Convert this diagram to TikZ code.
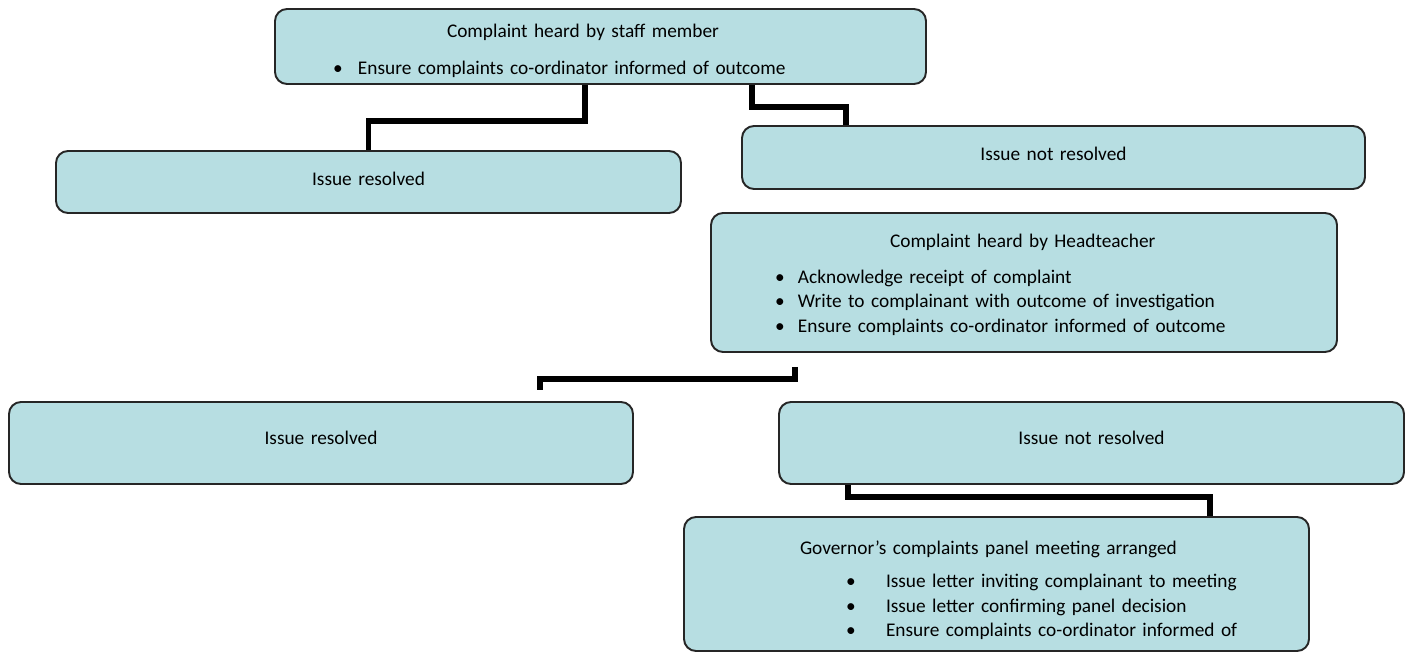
\documentclass[tikz,border=0pt]{standalone}
\usepackage{fontspec}
\setmainfont{Carlito}
\usepackage{tikz}
\usetikzlibrary{positioning}
\definecolor{boxfill}{RGB}{183,222,226}

\begin{document}
\begin{tikzpicture}[box/.style={draw=black!85, line width=1.1pt, rounded corners=0.24cm, fill=boxfill, inner sep=0pt, align=left, font=\fontsize{11}{14}\selectfont}, link/.style={line width=3.2pt}]
			\useasboundingbox (0,0) rectangle (28.24,-13.06);
			\node[box, text width=13.02cm, minimum height=1.5cm] (STAFF) at (12.01,-0.93) {\rule{0pt}{12.7pt}\hspace*{3.44cm}Complaint heard by staff member\\[7pt]\hspace*{1.16cm}\makebox[0.5cm][l]{\textbullet}Ensure complaints co-ordinator informed of outcome};
			\node[box, align=center, text width=12.5cm, minimum height=1.24cm, text depth=0.12cm, node distance=2.71cm, below of=STAFF, xshift=-4.64cm] (RES1) {Issue resolved};
			\node[box, align=center, text width=12.46cm, minimum height=1.26cm, text depth=0.16cm, node distance=2.22cm, below of=STAFF, xshift=9.06cm] (NRES1) {Issue not resolved};
			\node[box, text width=12.52cm, minimum height=2.78cm, node distance=2.5cm, below of=NRES1, xshift=-0.59cm] (HEAD) {\rule{0pt}{10.5pt}\hspace*{3.58cm}Complaint heard by Headteacher\\[6pt]\hspace*{1.28cm}\makebox[0.46cm][l]{\textbullet}Acknowledge receipt of complaint\\\hspace*{1.28cm}\makebox[0.46cm][l]{\textbullet}Write to complainant with outcome of investigation\\\hspace*{1.28cm}\makebox[0.46cm][l]{\textbullet}Ensure complaints co-ordinator informed of outcome};
			\node[box, align=center, text width=12.48cm, minimum height=1.64cm, text depth=0.2cm, node distance=3.21cm, below of=HEAD, xshift=-14.06cm] (RES2) {Issue resolved};
			\node[box, align=center, text width=12.5cm, minimum height=1.64cm, text depth=0.2cm, node distance=15.41cm, right of=RES2] (NRES2) {Issue not resolved};
			\node[box, text width=12.5cm, minimum height=2.68cm, node distance=2.82cm, below of=NRES2, xshift=-1.9cm] (PANEL) {\rule{0pt}{14.8pt}\hspace*{2.32cm}Governor’s complaints panel meeting arranged\\[5pt]\hspace*{3.24cm}\makebox[0.8cm][l]{\textbullet}Issue letter inviting complainant to meeting\\\hspace*{3.24cm}\makebox[0.8cm][l]{\textbullet}Issue letter confirming panel decision\\\hspace*{3.24cm}\makebox[0.8cm][l]{\textbullet}Ensure complaints co-ordinator informed of};

			\draw[link] ([xshift=-0.31cm]STAFF.south) -- ++(0,-0.72) -| (RES1.north);
			\draw[link] ([xshift=3.03cm]STAFF.south) -- ++(0,-0.44) -| ([xshift=-4.15cm]NRES1.north);
			\coordinate (HEADOUT) at ([xshift=-4.58cm,yshift=-0.28cm]HEAD.south);
			\coordinate (RES2IN) at ([xshift=4.38cm,yshift=0.22cm]RES2.north);
			\draw[link] (HEADOUT) -- ++(0,-0.24) -| (RES2IN);
			\draw[link] ([xshift=-4.87cm]NRES2.south) -- ++(0,-0.24) -| ([xshift=4.27cm]PANEL.north);
		\end{tikzpicture}
\end{document}
